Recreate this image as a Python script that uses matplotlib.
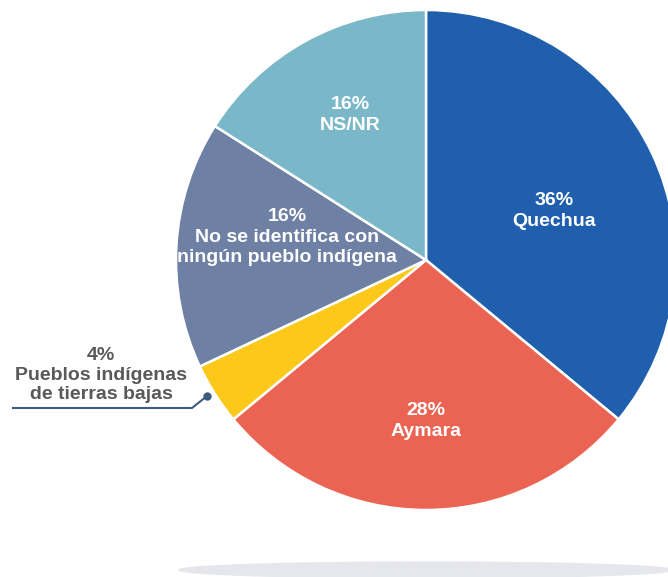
import matplotlib.pyplot as plt
from matplotlib.patches import Ellipse

plt.rcParams['font.family'] = ['Liberation Sans', 'DejaVu Sans']

groups = ['Quechua', 'Aymara', 'Pueblos indígenas\nde tierras bajas',
          'No se identifica con\nningún pueblo indígena', 'NS/NR']
shares = [36, 28, 4, 16, 16]
colors = ['#1f5fad', '#eb6352', '#fcc819', '#6e80a3', '#7ab8c9']

fig = plt.figure(figsize=(6.68, 5.77), dpi=100)
ax = fig.add_axes([0, 0, 1, 1])

# soft floor shadow under the pie
ax.add_patch(Ellipse((426, 7), 494, 16, color='#e6e7ec', zorder=0))

cx, cy, r = 426, 317, 250
wedges, _ = ax.pie(shares, colors=colors, startangle=90, counterclock=False,
                   center=(cx, cy), radius=r, frame=True,
                   wedgeprops=dict(edgecolor='white', linewidth=1.8))
ax.set_xlim(0, 668)
ax.set_ylim(0, 577)
ax.set_aspect('equal')
ax.axis('off')

# labels inside the slices
inside = {0: (554, 366), 1: (426, 156), 3: (287, 340), 4: (350, 462)}
for i, (x, y) in inside.items():
    ax.text(x, y, f'{shares[i]}%\n{groups[i]}', ha='center', va='center',
            color='white', fontsize=14, fontweight='bold', linespacing=1.25)

# small slice gets an outside label with a leader line
ax.text(101, 202, f'{shares[2]}%\n{groups[2]}', ha='center', va='center',
        color='#595959', fontsize=14, fontweight='bold', linespacing=1.2)
ax.plot([12, 192, 207], [169, 169, 181], color='#3d5a80', lw=1.5,
        solid_capstyle='butt')
ax.plot(207, 181, 'o', color='#3d5a80', ms=5)

fig.savefig('out.png', dpi=100)
